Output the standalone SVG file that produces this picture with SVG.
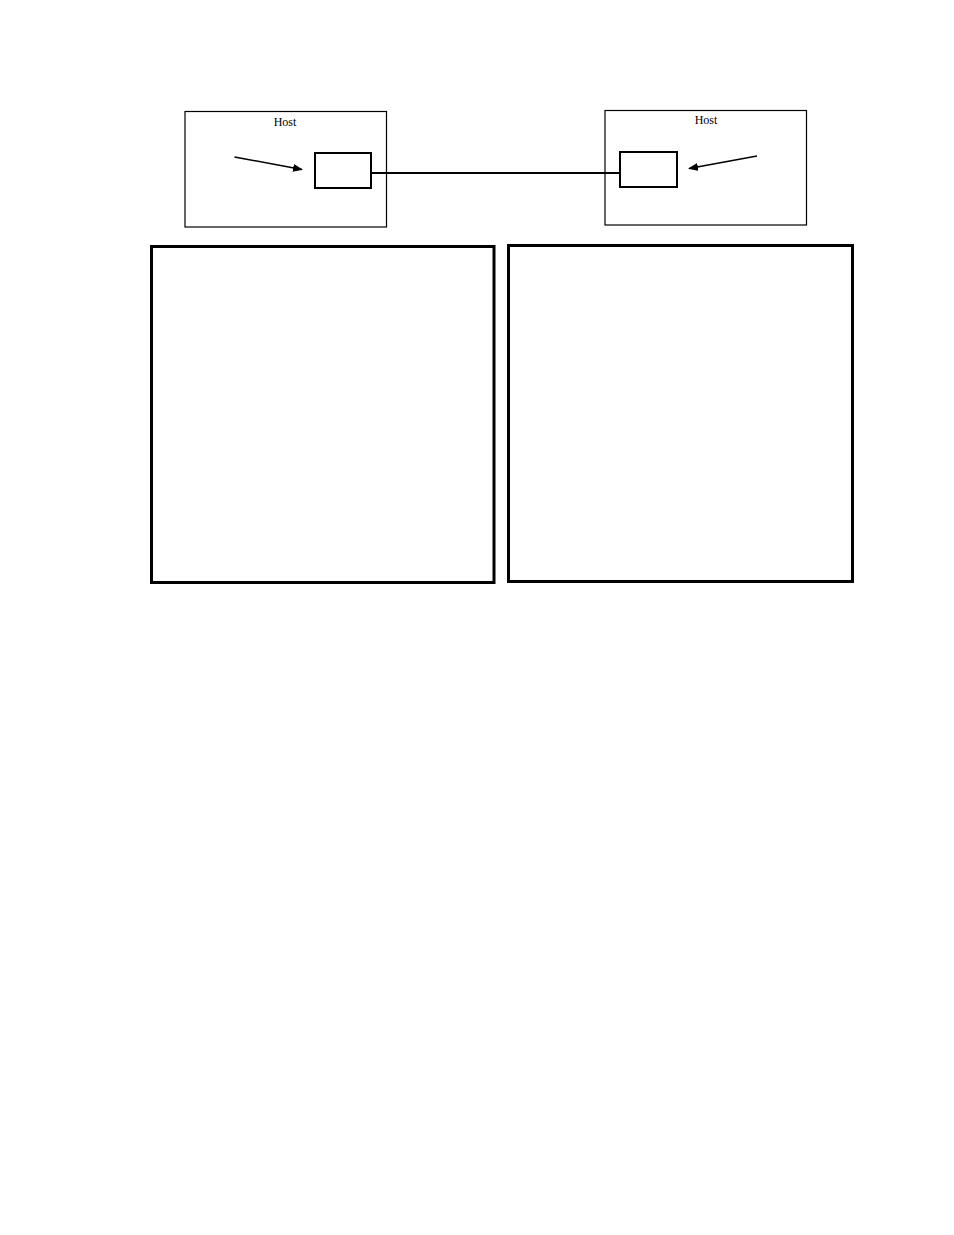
<svg xmlns="http://www.w3.org/2000/svg" width="954" height="1235" viewBox="0 0 954 1235">
<style>
.host{fill:none;stroke:#000;stroke-width:1.2}
.nic{fill:#fff;stroke:#000;stroke-width:2}
.panel{fill:none;stroke:#000;stroke-width:3}
.lbl{font-family:"Liberation Serif",serif;font-size:12px;fill:#000;text-anchor:middle}
.conn{stroke:#000;stroke-width:2;fill:none}
.arr{stroke:#000;stroke-width:1.5;fill:none}
</style>
<defs>
<marker id="ah" markerWidth="10" markerHeight="8" refX="9" refY="4" orient="auto" markerUnits="userSpaceOnUse">
<path d="M0,0 L10,4 L0,8 Z" fill="#000"/>
</marker>
</defs>
<rect width="954" height="1235" fill="#fff"/>
<g id="connectors">
<line class="conn" x1="371" y1="173" x2="620" y2="173"/>
<line class="arr" x1="234.5" y1="157" x2="302" y2="169.5" marker-end="url(#ah)"/>
<line class="arr" x1="757" y1="156" x2="689" y2="168.5" marker-end="url(#ah)"/>
</g>
<g id="host-left">
<rect class="host" x="185" y="111.5" width="201.5" height="115.5"/>
<text class="lbl" x="285" y="126">Host</text>
</g>
<g id="nic-left">
<rect class="nic" x="315" y="153" width="56" height="35"/>
</g>
<g id="host-right">
<rect class="host" x="605" y="110.5" width="201.5" height="114.5"/>
<text class="lbl" x="706" y="124">Host</text>
</g>
<g id="nic-right">
<rect class="nic" x="620" y="152" width="57" height="35"/>
</g>
<g id="panel-left">
<rect class="panel" x="151.5" y="246.5" width="342.5" height="336"/>
</g>
<g id="panel-right">
<rect class="panel" x="508.5" y="245.5" width="344" height="336"/>
</g>
</svg>
